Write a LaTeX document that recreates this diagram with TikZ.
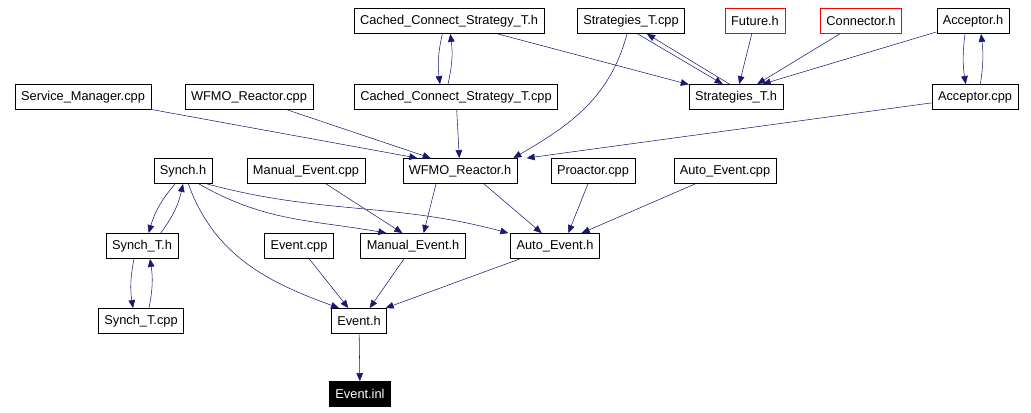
\documentclass[tikz,border=0pt]{standalone}
\usepackage{fontspec}
\setmainfont{Liberation Sans}
\usetikzlibrary{arrows.meta}
\definecolor{edgeblue}{HTML}{191970}

\begin{document}
\begin{tikzpicture}[
            x=0.75pt, y=-0.75pt,
            >={Triangle[length=6pt,width=5pt]},
            file/.style={draw=black, rectangle, fill=white, minimum height=19pt, inner xsep=4.5pt, font=\fontsize{9.6}{11}\selectfont},
            missing/.style={file, draw=red},
            current/.style={file, fill=black, text=white},
            dep/.style={->, draw=edgeblue},
        ]
            \useasboundingbox (0,0) rectangle (1031,413);

            % Top row
            \node[file] (CCS-h) at (449,21) {Cached\_Connect\_Strategy\_T.h};
            \node[file] (Str-cpp) at (631,21) {Strategies\_T.cpp};
            \node[missing] (Fut-h) at (755,21) {Future.h};
            \node[missing] (Con-h) at (861,21) {Connector.h};
            \node[file] (Acc-h) at (973,21) {Acceptor.h};

            % Second row
            \node[file] (SM-cpp) at (83,97) {Service\_Manager.cpp};
            \node[file] (WR-cpp) at (249,97) {WFMO\_Reactor.cpp};
            \node[file] (CCS-cpp) at (456,97) {Cached\_Connect\_Strategy\_T.cpp};
            \node[file] (Str-h) at (736,97) {Strategies\_T.h};
            \node[file] (Acc-cpp) at (975,97) {Acceptor.cpp};

            % Third row
            \node[file] (Syn-h) at (183,171) {Synch.h};
            \node[file] (ME-cpp) at (306,171) {Manual\_Event.cpp};
            \node[file] (WR-h) at (460,171) {WFMO\_Reactor.h};
            \node[file] (Pro-cpp) at (593,171) {Proactor.cpp};
            \node[file] (AE-cpp) at (725,171) {Auto\_Event.cpp};

            % Fourth row
            \node[file] (SynT-h) at (142,246) {Synch\_T.h};
            \node[file] (Ev-cpp) at (299,246) {Event.cpp};
            \node[file] (ME-h) at (413,246) {Manual\_Event.h};
            \node[file] (AE-h) at (555,246) {Auto\_Event.h};

            % Bottom rows
            \node[file] (SynT-cpp) at (141,321) {Synch\_T.cpp};
            \node[file] (Ev-h) at (359,321) {Event.h};
            \node[current] (Ev-inl) at (360,394) {Event.inl};

            % Connections
            \draw[dep] ([xshift=-5pt]CCS-h.south) to[bend right=10] ([xshift=-12pt]CCS-cpp.north);
            \draw[dep] ([xshift=-6pt]CCS-cpp.north) to[bend right=10] ([xshift=1pt]CCS-h.south);
            \draw[dep] (CCS-h) -- (Str-h);
            \draw[dep] ([xshift=5pt]Str-cpp.south) -- ([xshift=-10pt]Str-h.north);
            \draw[dep] ([xshift=-5pt]Str-h.north) -- ([xshift=12pt]Str-cpp.south);
            \draw[dep] ([xshift=-3pt]Str-cpp.south) to[out=-105, in=30] ([xshift=40pt]WR-h.north);
            \draw[dep] (Fut-h) -- (Str-h);
            \draw[dep] (Con-h) -- (Str-h);
            \draw[dep] (Acc-h) -- ([xshift=20pt]Str-h.north);
            \draw[dep] ([xshift=-6pt]Acc-h.south) to[bend right=8] ([xshift=-7pt]Acc-cpp.north);
            \draw[dep] ([xshift=4pt]Acc-cpp.north) to[bend right=8] ([xshift=6pt]Acc-h.south);
            \draw[dep] (SM-cpp) -- ([xshift=-32pt]WR-h.north);
            \draw[dep] (WR-cpp) -- ([xshift=-22pt]WR-h.north);
            \draw[dep] (CCS-cpp) -- (WR-h);
            \draw[dep] (Acc-cpp) -- ([xshift=50pt]WR-h.north);

            \draw[dep] ([xshift=-6pt]Syn-h.south) to[bend right=12] ([xshift=5pt]SynT-h.north);
            \draw[dep] ([xshift=14pt]SynT-h.north) to[bend right=12] (Syn-h.south);
            \draw[dep] ([xshift=-6pt]SynT-h.south) to[bend right=10] ([xshift=-6pt]SynT-cpp.north);
            \draw[dep] ([xshift=6pt]SynT-cpp.north) to[bend right=10] ([xshift=6pt]SynT-h.south);
            \draw[dep] ([xshift=12pt]Syn-h.south) to[out=-30, in=170] ([xshift=-20pt]ME-h.north);
            \draw[dep] ([xshift=18pt]Syn-h.south) to[out=-15, in=165] ([xshift=-35pt]AE-h.north);
            \draw[dep] ([xshift=4pt]Syn-h.south) to[out=-70, in=160] ([xshift=-15pt]Ev-h.north);
            \draw[dep] (ME-cpp) -- ([xshift=-8pt]ME-h.north);
            \draw[dep] ([xshift=-18pt]WR-h.south) -- ([xshift=8pt]ME-h.north);
            \draw[dep] ([xshift=18pt]WR-h.south) -- ([xshift=-10pt]AE-h.north);
            \draw[dep] (Pro-cpp) -- ([xshift=10pt]AE-h.north);
            \draw[dep] (AE-cpp) -- ([xshift=20pt]AE-h.north);

            \draw[dep] (Ev-cpp) -- ([xshift=-8pt]Ev-h.north);
            \draw[dep] (ME-h) -- ([xshift=8pt]Ev-h.north);
            \draw[dep] (AE-h) -- ([xshift=20pt]Ev-h.north);
            \draw[dep] (Ev-h) -- (Ev-inl);
        \end{tikzpicture}
\end{document}
